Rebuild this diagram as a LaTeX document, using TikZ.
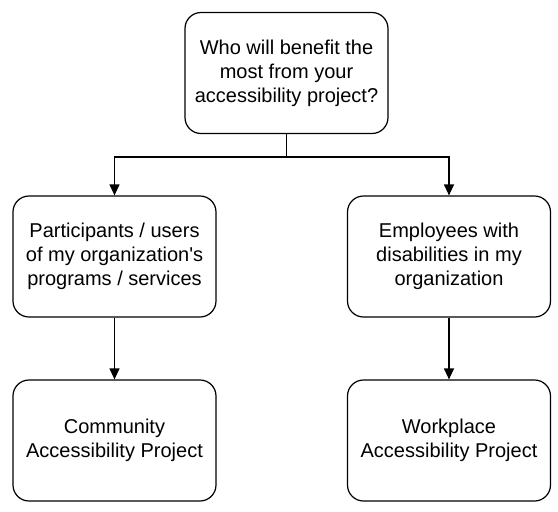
\documentclass[tikz,border=0pt]{standalone}
\usepackage{fontspec}
\setmainfont{Liberation Sans}[Ligatures=TeXOff]
\usetikzlibrary{arrows.meta}
\tikzset{
    box/.style={draw, line width=1.2pt, rounded corners=16pt, minimum width=203pt,
        minimum height=121pt, align=center, font=\fontsize{20}{24}\selectfont},
    link/.style={line width=1.2pt, -{Triangle[length=11pt,width=10pt]}}
}
\begin{document}
\begin{tikzpicture}[x=1pt,y=-1pt]
        \useasboundingbox (0,0) rectangle (558,512);
        \node[box] (question) at (286.5,73) {Who will benefit the\\most from your\\accessibility project?};
        \node[box] (users) at (114.5,256.5) {Participants / users\\of my organization's\\programs / services};
        \node[box] (staff) at (449,256.5) {Employees with\\disabilities in my\\organization};
        \node[box] (community) at (114.5,440.5) {Community\\Accessibility Project};
        \node[box] (workplace) at (449,440.5) {Workplace\\Accessibility Project};
        \coordinate (split) at (286.5,157);
        \draw[line width=1.2pt] (question) -- (split);
        \draw[link] (split) -| (users);
        \draw[link] (split) -| (staff);
        \draw[link] (users) -- (community);
        \draw[link] (staff) -- (workplace);
    \end{tikzpicture}
\end{document}
